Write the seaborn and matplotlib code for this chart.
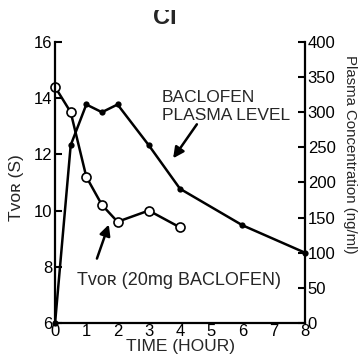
import matplotlib
matplotlib.use("Agg")
import matplotlib.pyplot as plt
import seaborn as sns
import pandas as pd
from matplotlib.patches import Rectangle

# Vestibulo-ocular time constant after a 20 mg dose
hours_tvor = [0, 0.5, 1, 1.5, 2, 3, 4]
tvor_s = [14.4, 13.5, 11.2, 10.2, 9.6, 10.0, 9.4]

# Baclofen plasma concentration (ng/ml)
hours_plasma = [0, 0.5, 1, 1.5, 2, 3, 4, 6, 8]
plasma_ngml = [0, 253, 311, 300, 311, 253, 191, 139, 100]

x_ticks = [0, 1, 2, 3, 4, 5, 6, 7, 8]
left_ticks = [6, 8, 10, 12, 14, 16]
right_ticks = [0, 50, 100, 150, 200, 250, 300, 350, 400]

sns.set_theme(style="white")
plt.rcParams["font.family"] = ["Liberation Sans", "DejaVu Sans"]

tvor_df = pd.DataFrame({"hour": hours_tvor, "tvor": tvor_s})
plasma_df = pd.DataFrame({"hour": hours_plasma, "conc": plasma_ngml})

fig = plt.figure(figsize=(3.6, 3.62), dpi=100)
ax = fig.add_axes([0.153, 0.108, 0.694, 0.776])
ax2 = ax.twinx()

sns.lineplot(data=plasma_df, x="hour", y="conc", ax=ax2, color="black",
             linewidth=1.8, marker="o", markersize=4.5, markeredgewidth=0,
             clip_on=False)
sns.lineplot(data=tvor_df, x="hour", y="tvor", ax=ax, color="black",
             linewidth=1.8, marker="o", markersize=6.5, markerfacecolor="white",
             markeredgecolor="black", markeredgewidth=1.2, clip_on=False)

ax.set_zorder(ax2.get_zorder() + 1)
ax.patch.set_visible(False)

ax.set_xlim(0, 8)
ax.set_ylim(6, 16)
ax2.set_ylim(0, 400)
ax.set_xticks(x_ticks)
ax.set_yticks(left_ticks)
ax2.set_yticks(right_ticks)

for a in (ax, ax2):
    a.spines["top"].set_visible(False)
    for s in ("left", "right", "bottom"):
        a.spines[s].set_linewidth(1.6)
        a.spines[s].set_color("black")
    a.tick_params(direction="in", length=5, width=1.5, colors="black",
                  labelsize=12, pad=2)
ax.spines["right"].set_visible(False)
ax2.spines["left"].set_visible(False)
ax2.spines["bottom"].set_visible(False)
ax.tick_params(axis="x", pad=1)

ax.set_xlabel("TIME (HOUR)", fontsize=12.5, labelpad=0)
ax.set_ylabel("")
ax2.set_ylabel("")
fig.text(0.045, 1 - 188 / 362, "Tᴠᴏʀ (S)", rotation=90,
         ha="center", va="center", fontsize=12.5)
fig.text(0.972, 1 - 154 / 362, "Plasma Concentration (ng/ml)", rotation=-90,
         ha="center", va="center", fontsize=10.8)

ax.text(3.42, 13.71, "BACLOFEN\nPLASMA LEVEL", ha="left", va="center",
        fontsize=12.5, linespacing=1.3)
ax.annotate("", xy=(3.78, 11.86), xytext=(4.54, 13.07),
            arrowprops=dict(arrowstyle="-|>", color="black", lw=1.8,
                            mutation_scale=16, shrinkA=0, shrinkB=0))

ax.text(0.70, 7.5, "Tᴠᴏʀ (20mg BACLOFEN)", ha="left", va="center",
        fontsize=13)
ax.annotate("", xy=(1.72, 9.5), xytext=(1.34, 8.29),
            arrowprops=dict(arrowstyle="-|>", color="black", lw=1.8,
                            mutation_scale=16, shrinkA=0, shrinkB=0))

# Panel heading, trimmed at the top edge of the sheet
fig.text(0.458, 1 - 24 / 362, "CI", ha="center", va="baseline",
         fontsize=17, fontweight="bold")
fig.patches.append(Rectangle((0, 1 - 10 / 362), 1, 10 / 362,
                             transform=fig.transFigure, facecolor="white",
                             edgecolor="none", zorder=10))

fig.savefig("out.png", dpi=100, facecolor="white")
